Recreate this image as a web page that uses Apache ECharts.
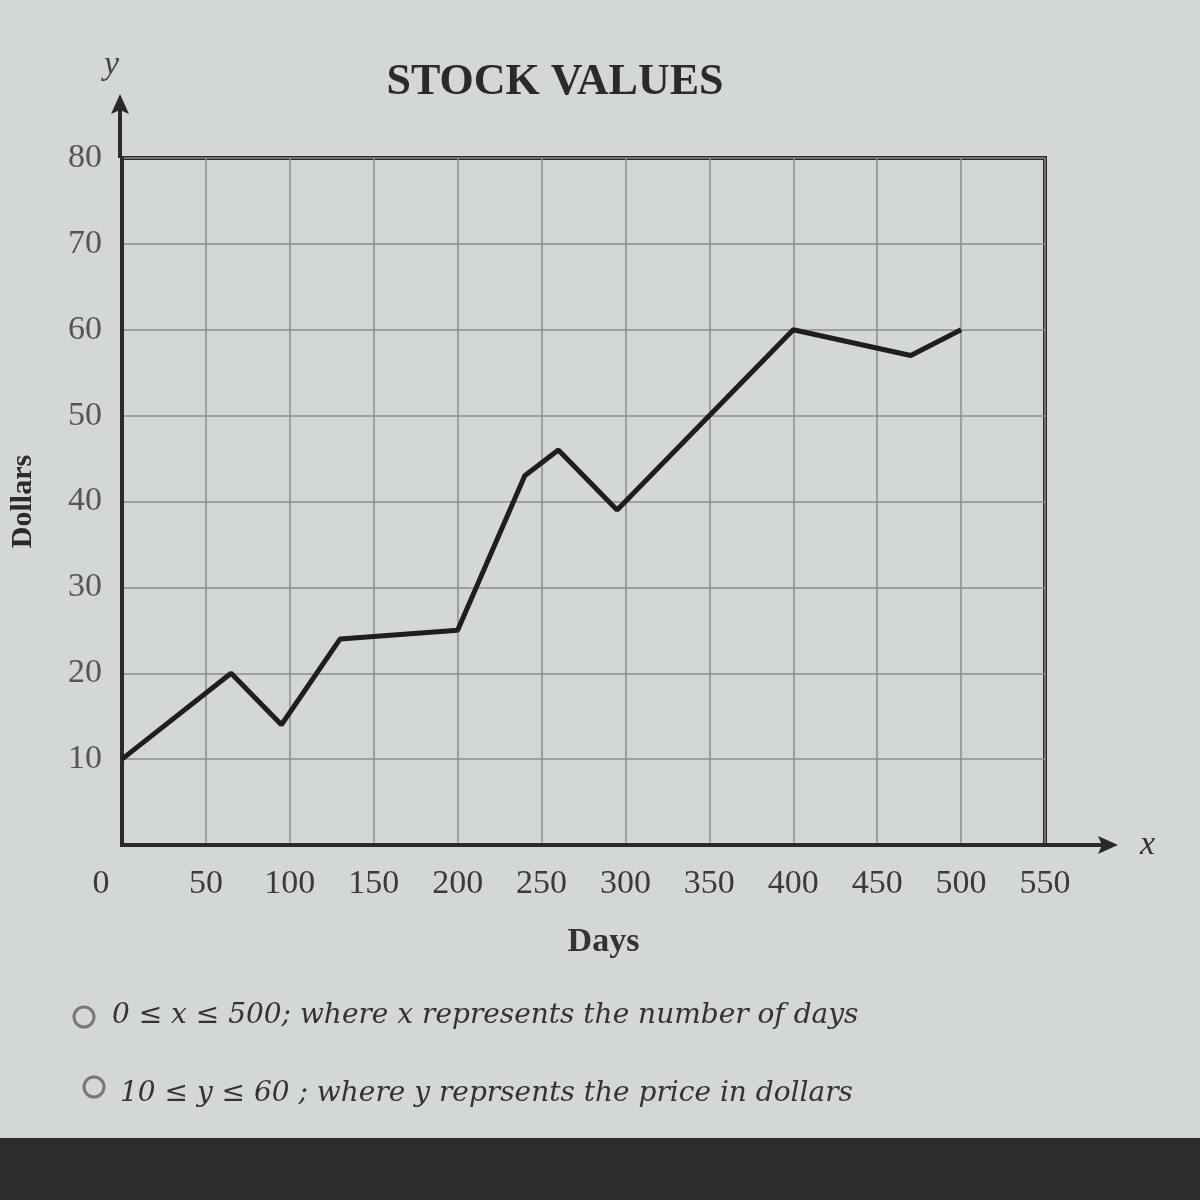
<!DOCTYPE html>
<html>
<head>
<meta charset="utf-8">
<script src="https://cdn.jsdelivr.net/npm/echarts@6/dist/echarts.min.js"></script>
<style>html,body{margin:0;padding:0;background:#d3d7d8;}#c{width:1200px;height:1200px;}</style>
</head>
<body>
<div id="c"></div>
<script>
const days = [0, 65, 95, 130, 200, 240, 260, 295, 400, 470, 500];
const dollars = [10, 20, 14, 24, 25, 43, 46, 39, 60, 57, 60];
const xTicks = [0, 50, 100, 150, 200, 250, 300, 350, 400, 450, 500, 550];
const yTicks = [10, 20, 30, 40, 50, 60, 70, 80];
const titleText = 'STOCK VALUES';
const xName = 'Days';
const yName = 'Dollars';
const choices = [
  '0 \u2264 x \u2264 500; where x represents the number of days',
  '10 \u2264 y \u2264 60 ; where y reprsents the price in dollars'
];

const chart = echarts.init(document.getElementById('c'));
const G = {left: 120, right: 155, top: 158, bottom: 355};
const serif = '"Liberation Serif", "DejaVu Serif", serif';

chart.setOption({
  backgroundColor: '#d3d7d8',
  animation: false,
  title: {
    text: titleText, left: 550, top: 56, textAlign: 'center',
    textStyle: {fontFamily: serif, fontSize: 44, fontWeight: 'bold', color: '#2a2a2a'}
  },
  grid: Object.assign({show: true, borderColor: '#2a2a2a', borderWidth: 4, backgroundColor: 'transparent'}, G),
  xAxis: {
    type: 'value', min: 0, max: 550, interval: 50,
    axisLine: {show: true, lineStyle: {color: '#2a2a2a', width: 4}},
    axisTick: {show: false},
    splitLine: {show: true, lineStyle: {color: '#8a8e90', width: 1.5}},
    axisLabel: {
      margin: 22, fontFamily: serif, fontSize: 34, color: '#3a3a3a',
      formatter: v => xTicks.indexOf(v) === 0 ? '{z|' + v + '}' : String(v),
      rich: {z: {fontFamily: serif, fontSize: 34, color: '#3a3a3a', padding: [0, 42, 0, 0]}}
    },
    name: xName, nameLocation: 'middle', nameGap: 80,
    nameTextStyle: {fontFamily: serif, fontSize: 34, fontWeight: 'bold', color: '#333', padding: [0, 0, 0, 40]}
  },
  yAxis: {
    type: 'value', min: 0, max: 80, interval: 10,
    axisLine: {show: true, lineStyle: {color: '#2a2a2a', width: 4}},
    axisTick: {show: false},
    splitLine: {show: true, lineStyle: {color: '#8a8e90', width: 1.5}},
    axisLabel: {
      margin: 20, fontFamily: serif, fontSize: 34, color: '#555',
      formatter: v => yTicks.indexOf(v) >= 0 ? String(v) : ''
    },
    name: yName, nameLocation: 'middle', nameGap: 84, nameRotate: 90,
    nameTextStyle: {fontFamily: serif, fontSize: 30, fontWeight: 'bold', color: '#2a2a2a'}
  },
  series: [{
    type: 'line',
    data: days.map((d, i) => [d, dollars[i]]),
    symbol: 'none',
    lineStyle: {color: '#1e1e1e', width: 5},
    z: 5
  }],
  graphic: [
    {type: 'line', shape: {x1: 1045, y1: 845, x2: 1105, y2: 845}, style: {stroke: '#2a2a2a', lineWidth: 4}},
    {type: 'polygon', shape: {points: [[1118, 845], [1098, 836], [1102, 845], [1098, 854]]}, style: {fill: '#2a2a2a'}},
    {type: 'text', left: 1140, top: 828, style: {text: 'x', font: 'italic 34px ' + serif, fill: '#333'}},
    {type: 'line', shape: {x1: 120, y1: 158, x2: 120, y2: 106}, style: {stroke: '#2a2a2a', lineWidth: 4}},
    {type: 'polygon', shape: {points: [[120, 94], [111, 114], [120, 110], [129, 114]]}, style: {fill: '#2a2a2a'}},
    {type: 'text', left: 104, top: 48, style: {text: 'y', font: 'italic 34px ' + serif, fill: '#444'}},
    {type: 'circle', shape: {cx: 84, cy: 1017, r: 10}, style: {fill: 'none', stroke: '#777', lineWidth: 3}},
    {type: 'text', left: 112, top: 1002, style: {text: choices[0], font: 'italic 28px "DejaVu Serif", serif', fill: '#333'}},
    {type: 'circle', shape: {cx: 94, cy: 1087, r: 10}, style: {fill: 'none', stroke: '#777', lineWidth: 3}},
    {type: 'text', left: 120, top: 1080, style: {text: choices[1], font: 'italic 28px "DejaVu Serif", serif', fill: '#333'}},
    {type: 'rect', shape: {x: 0, y: 1138, width: 1200, height: 62}, style: {fill: '#2c2c2c'}}
  ]
});
</script>
</body>
</html>
